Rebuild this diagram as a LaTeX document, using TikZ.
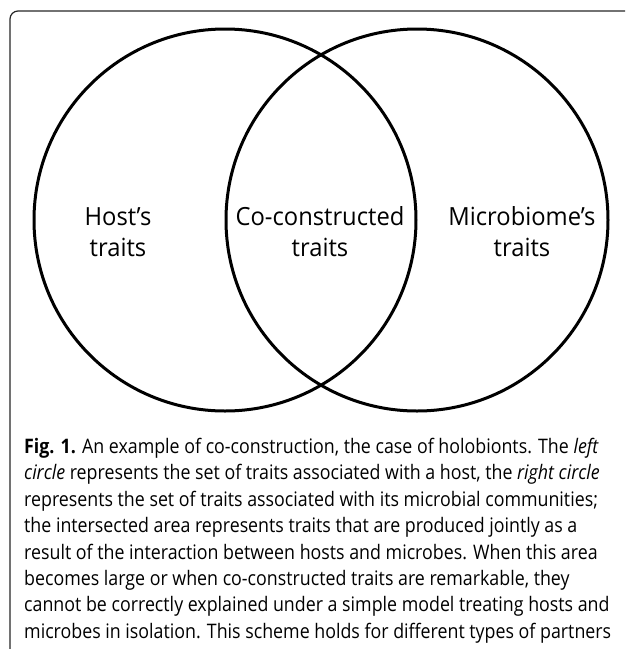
\documentclass[tikz,border=0pt]{standalone}
\usepackage{fontspec}
\setmainfont{Open Sans}
\newfontfamily\captfont[FakeStretch=0.89]{Open Sans}
\newfontfamily\labfont[FakeStretch=0.95]{Open Sans}
\begin{document}
\begin{tikzpicture}[x=1pt,y=-1pt,
  ring/.style={draw=black,line width=3pt},
  frameline/.style={draw=black!85,line width=1.2pt,rounded corners=8pt},
  label/.style={align=center,font=\labfont\fontsize{25}{31}\selectfont,inner sep=0pt},
  capt/.style={align=left,anchor=north west,inner sep=0pt,font=\captfont\fontsize{20}{26.4}\selectfont}]
\useasboundingbox (0,0) rectangle (625,649);
\coordinate (fa) at (10,649);
\coordinate (fb) at (10,11);
\coordinate (fc) at (625,11);
\draw[frameline] (fa) -- (fb) -- (fc);
\node[ring,circle,minimum size=382pt,inner sep=0pt] (host) at (225,220) {};
\node[ring,circle,minimum size=382pt,inner sep=0pt] (micro) at (417,220) {};
\node[label] (hl) at (118,232) {Host’s\\traits};
\node[label] (cl) at (320,232) {Co-constructed\\traits};
\node[label] (ml) at (522,232) {Microbiome’s\\traits};
\node[capt] (cap) at (24,438) {\textbf{Fig. 1.} An example of co-construction, the case of holobionts. The \textit{left}\\
\textit{circle} represents the set of traits associated with a host, the \textit{right circle}\\
represents the set of traits associated with its microbial communities;\\
the intersected area represents traits that are produced jointly as a\\
result of the interaction between hosts and microbes. When this area\\
becomes large or when co-constructed traits are remarkable, they\\
cannot be correctly explained under a simple model treating hosts and\\
microbes in isolation. This scheme holds for different types of partners};
\end{tikzpicture}
\end{document}
